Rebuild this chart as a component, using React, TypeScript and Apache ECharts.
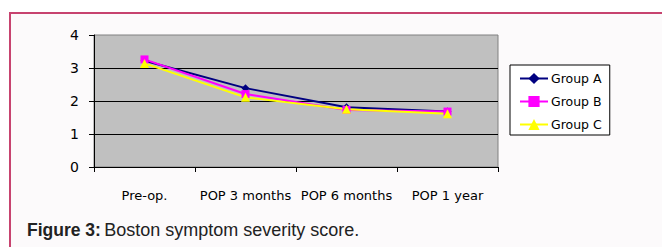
import React, { useEffect, useRef } from "react";
import * as echarts from "echarts";

const categories = ["Pre-op.", "POP 3 months", "POP 6 months", "POP 1 year"];
const groupA = [3.22, 2.39, 1.81, 1.68];
const groupB = [3.26, 2.21, 1.73, 1.68];
const groupC = [3.14, 2.11, 1.75, 1.61];
const yTicks = [0, 1, 2, 3, 4];

export default function App() {
  const ref = useRef<HTMLDivElement>(null);
  useEffect(() => {
    if (!ref.current) return;
    const chart = echarts.init(ref.current, undefined, { renderer: "svg" });
    const font = "DejaVu Sans";
    chart.setOption({
      animation: false,
      backgroundColor: "#ffffff",
      graphic: [
        {
          type: "rect",
          z: -10,
          silent: true,
          shape: { x: 10, y: 13, width: 700, height: 300 },
          style: { fill: "#fcfafb", stroke: "#c7436f", lineWidth: 2 },
        },
        {
          type: "text",
          left: 27,
          top: 221,
          style: {
            text: "{b|Figure 3:} {r|Boston symptom severity score.}",
            rich: {
              b: { fontFamily: "Liberation Sans", fontWeight: "bold", fontSize: 17.5, fill: "#222" },
              r: { fontFamily: "Liberation Sans", fontSize: 18, fill: "#222" },
            },
          },
        },
      ],
      grid: {
        left: 94,
        top: 35,
        width: 404,
        height: 132,
        show: true,
        backgroundColor: "#c0c0c0",
        borderColor: "#808080",
        borderWidth: 1,
      },
      legend: {
        orient: "vertical",
        left: 510,
        top: 65,
        padding: [7, 8, 4, 9],
        itemGap: 10,
        itemWidth: 28,
        itemHeight: 14,
        backgroundColor: "#ffffff",
        borderColor: "#000000",
        borderWidth: 1,
        textStyle: { fontFamily: font, fontSize: 12.5, color: "#000", padding: [0, 0, 0, -2] },
        data: ["Group A", "Group B", "Group C"],
      },
      xAxis: {
        type: "category",
        data: categories,
        boundaryGap: true,
        axisLine: { lineStyle: { color: "#000", width: 1 } },
        axisTick: { show: true, length: 5, lineStyle: { color: "#000" } },
        axisLabel: { interval: 0, hideOverlap: false, margin: 22, fontFamily: font, fontSize: 13, color: "#000" },
        splitLine: { show: false },
      },
      yAxis: {
        type: "value",
        min: yTicks[0],
        max: yTicks[yTicks.length - 1],
        interval: 1,
        axisLine: { show: true, lineStyle: { color: "#000", width: 1 } },
        axisTick: { show: true, length: 5, lineStyle: { color: "#000" } },
        axisLabel: { margin: 15, fontFamily: font, fontSize: 14, color: "#000" },
        splitLine: { show: true, showMaxLine: false, lineStyle: { color: "#000", width: 1 } },
      },
      series: [
        {
          name: "Group A",
          type: "line",
          data: groupA,
          symbol: "diamond",
          symbolSize: 8,
          color: "#000080",
          lineStyle: { width: 2, color: "#000080" },
          itemStyle: { color: "#000080" },
        },
        {
          name: "Group B",
          type: "line",
          data: groupB,
          symbol: "rect",
          symbolSize: 8,
          color: "#ff00ff",
          lineStyle: { width: 2, color: "#ff00ff" },
          itemStyle: { color: "#ff00ff" },
        },
        {
          name: "Group C",
          type: "line",
          data: groupC,
          symbol: "triangle",
          symbolSize: 9,
          color: "#ffff00",
          lineStyle: { width: 2, color: "#ffff00" },
          itemStyle: { color: "#ffff00" },
        },
      ],
    });
    return () => chart.dispose();
  }, []);
  return (
    <div
      ref={ref}
      style={{ position: "fixed", left: 0, top: 0, width: 662, height: 247 }}
    />
  );
}
